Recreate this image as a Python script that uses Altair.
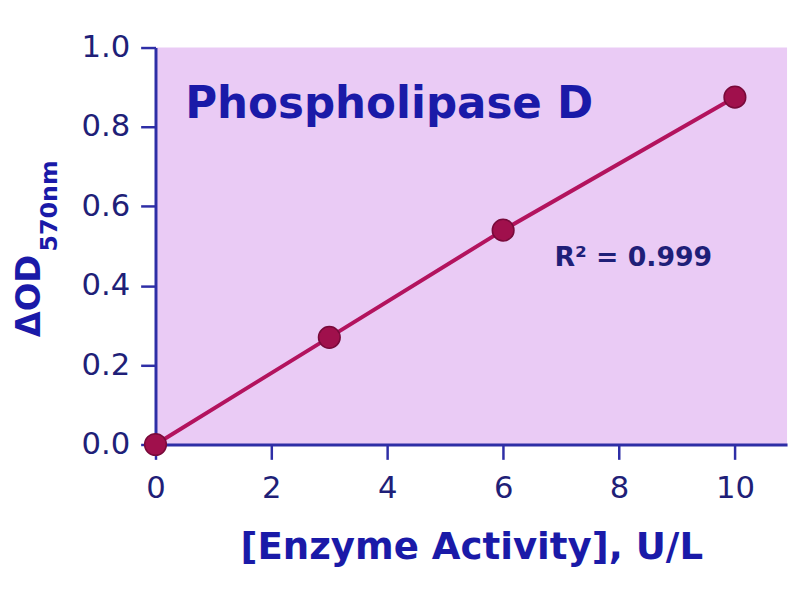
import altair as alt
import pandas as pd

# data
activity = [0, 3, 6, 10]
od = [0.0, 0.27, 0.54, 0.875]
x_ticks = [0, 2, 4, 6, 8, 10]
y_ticks = [0.0, 0.2, 0.4, 0.6, 0.8, 1.0]
title_text = ["Phospholipase D"]
r2_text = ["R² = 0.999"]
ylab_main = ["ΔOD"]
ylab_sub = ["570nm"]

df = pd.DataFrame({"activity": activity, "od": od})

axis_color = "#2e2ea6"
label_color = "#1f1f78"
text_color = "#1a1aa8"
line_color = "#b3135e"
point_color = "#a0104c"
bg = "#eacbf5"
font = "DejaVu Sans"

x_enc = alt.X(
    "activity:Q",
    scale=alt.Scale(domain=[0, 10.9], nice=False, zero=False),
    axis=alt.Axis(
        values=x_ticks, format="d", title="[Enzyme Activity], U/L",
        grid=False, domainColor=axis_color, domainWidth=3,
        tickColor=axis_color, tickWidth=2.5, tickSize=15,
        labelColor=label_color, labelFont=font, labelFontSize=31,
        labelPadding=15, labelFlush=False,
        titleColor=text_color, titleFont=font, titleFontSize=37.5,
        titleFontWeight="bold", titlePadding=25,
    ),
)
y_enc = alt.Y(
    "od:Q",
    scale=alt.Scale(domain=[0, 1], nice=False),
    axis=alt.Axis(
        values=y_ticks, format=".1f", title=None,
        grid=False, domainColor=axis_color, domainWidth=3,
        tickColor=axis_color, tickWidth=2.5, tickSize=15,
        labelColor=label_color, labelFont=font, labelFontSize=31,
        labelPadding=11, labelFlush=False,
    ),
)

line = alt.Chart(df).mark_line(color=line_color, strokeWidth=4).encode(x=x_enc, y=y_enc)
pts = alt.Chart(df).mark_point(
    filled=True, size=480, color=point_color, stroke="#780a3a", strokeWidth=1.5, opacity=1
).encode(x="activity:Q", y="od:Q")

title = alt.Chart(pd.DataFrame({"t": title_text})).mark_text(
    font=font, fontSize=44, fontWeight="bold", color=text_color, align="left", baseline="alphabetic"
).encode(x=alt.value(30), y=alt.value(71), text="t:N")

r2 = alt.Chart(pd.DataFrame({"t": r2_text})).mark_text(
    font=font, fontSize=27, fontWeight="bold", color=label_color, align="left", baseline="middle"
).encode(x=alt.value(403), y=alt.value(213), text="t:N")

ym = alt.Chart(pd.DataFrame({"t": ylab_main})).mark_text(
    font=font, fontSize=34, fontWeight="bold", color=text_color, align="center", baseline="middle", angle=270
).encode(x=alt.value(-127), y=alt.value(251), text="t:N")

ys = alt.Chart(pd.DataFrame({"t": ylab_sub})).mark_text(
    font=font, fontSize=24, fontWeight="bold", color=text_color, align="center", baseline="middle", angle=270
).encode(x=alt.value(-107), y=alt.value(160), text="t:N")

chart = alt.layer(line, pts, title, r2, ym, ys).properties(
    width=638, height=401,
    autosize=alt.AutoSizeParams(type="none"),
    padding={"left": 149, "top": 37, "right": 5, "bottom": 140},
    background="white",
).configure_view(fill=bg, stroke=None)

chart.save("out.html", embed_options={"renderer": "svg", "actions": False})
